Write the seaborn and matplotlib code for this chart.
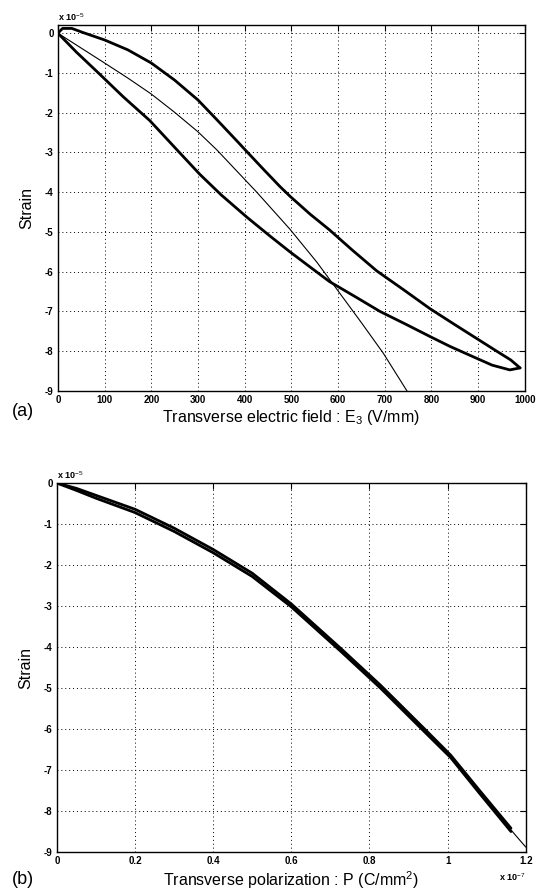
import numpy as np
import seaborn as sns
import matplotlib
matplotlib.use('Agg')
import matplotlib.pyplot as plt

# %% ---- data ----
# (a) strain (x 1e-5) vs transverse field E3 (V/mm)
field_up = [0, 10, 30, 53, 100, 150, 200, 250, 300, 340, 385, 404, 440, 475, 497,
            540, 582, 630, 683, 740, 797, 850, 897, 940, 970, 990]
strain_up = [0, 0.12, 0.12, 0.02, -0.17, -0.42, -0.75, -1.18, -1.68, -2.17, -2.73,
             -2.97, -3.42, -3.85, -4.1, -4.55, -4.95, -5.45, -5.98, -6.45, -6.93,
             -7.33, -7.68, -8.0, -8.22, -8.42]
field_dn = [990, 968, 930, 882, 840, 797, 745, 690, 640, 582, 540, 497, 454, 405,
            350, 304, 250, 197, 140, 85, 40, 0]
strain_dn = [-8.42, -8.47, -8.35, -8.1, -7.88, -7.63, -7.32, -7.0, -6.65, -6.25,
             -5.88, -5.5, -5.1, -4.63, -4.07, -3.55, -2.87, -2.2, -1.6, -0.98,
             -0.48, 0]
field_fit = [0, 100, 150, 200, 250, 300, 340, 385, 426, 497, 554, 590, 650, 697,
             744, 752]
strain_fit = [0, -0.75, -1.13, -1.53, -1.99, -2.48, -2.93, -3.49, -4.0, -4.93,
              -5.75, -6.32, -7.28, -8.05, -8.93, -9.08]

# (b) strain (x 1e-5) vs polarization P (x 1e-7 C/mm^2)
pol = [0, 0.05, 0.1, 0.2, 0.3, 0.4, 0.5, 0.6, 0.726, 0.828, 0.939, 1.008, 1.08, 1.162]
strain_pol_up = [0, -0.13, -0.3, -0.64, -1.1, -1.62, -2.2, -2.95, -4.03, -4.93,
                 -5.98, -6.64, -7.48, -8.42]
strain_pol_dn = [0, -0.18, -0.37, -0.72, -1.18, -1.7, -2.28, -3.02, -4.1, -5.0,
                 -6.05, -6.7, -7.55, -8.5]
pol_tail = [1.162, 1.18, 1.2]
strain_tail = [-8.46, -8.66, -8.88]

e_ticks = list(range(0, 1001, 100))
p_ticks = [0, 0.2, 0.4, 0.6, 0.8, 1.0, 1.2]
p_ticklabels = ['0', '0.2', '0.4', '0.6', '0.8', '1', '1.2']
s_ticks = list(range(0, -10, -1))

# %% ---- style ----
sns.set_theme(style='white')
plt.rcParams['font.family'] = ['Liberation Sans', 'DejaVu Sans']
plt.rcParams['axes.unicode_minus'] = False
plt.rcParams['text.color'] = 'black'
plt.rcParams['axes.labelcolor'] = 'black'
plt.rcParams['mathtext.fontset'] = 'custom'
plt.rcParams['mathtext.rm'] = 'Liberation Sans'
plt.rcParams['mathtext.it'] = 'Liberation Sans'
plt.rcParams['mathtext.bf'] = 'Liberation Sans:bold'

fig = plt.figure(figsize=(5.36, 8.92), dpi=100)
ax1 = fig.add_axes([0.108, 0.5617, 0.871, 0.410])
ax2 = fig.add_axes([0.106, 0.0448, 0.875, 0.4137])


def matlab_axes(ax):
    for sp in ax.spines.values():
        sp.set_visible(True)
        sp.set_color('black')
        sp.set_linewidth(1.0)
    ax.grid(True, color='black', linestyle=(0, (1, 3)), linewidth=0.7)
    ax.tick_params(direction='in', length=4, width=0.8, top=True, right=True,
                   labelsize=7, pad=3, colors='black')
    ax.set_yticks(s_ticks)
    for lab in ax.get_xticklabels() + ax.get_yticklabels():
        lab.set_fontweight('bold')
    ax.set_ylabel('Strain', fontsize=11.5, labelpad=8)


# %% ---- (a) ----
sns.lineplot(x=field_up, y=strain_up, sort=False, estimator=None, color='black',
             linewidth=2.0, ax=ax1)
sns.lineplot(x=field_dn, y=strain_dn, sort=False, estimator=None, color='black',
             linewidth=2.0, ax=ax1)
sns.lineplot(x=field_fit, y=strain_fit, sort=False, estimator=None, color='black',
             linewidth=0.8, ax=ax1)
ax1.set_xlim(0, 1000)
ax1.set_ylim(-9, 0.2)
ax1.set_xticks(e_ticks)
matlab_axes(ax1)
ax1.set_xlabel('Transverse electric field : E$_3$ (V/mm)', fontsize=11.5, labelpad=2)
ax1.text(0.0, 1.005, 'x 10$^{-5}$', transform=ax1.transAxes, fontsize=6.5,
         fontweight='bold', ha='left', va='bottom')
fig.text(0.022, 1 - 412 / 892, '(a)', fontsize=13, ha='left', va='center')

# %% ---- (b) ----
sns.lineplot(x=pol, y=strain_pol_up, sort=False, estimator=None, color='black',
             linewidth=2.0, ax=ax2)
sns.lineplot(x=pol, y=strain_pol_dn, sort=False, estimator=None, color='black',
             linewidth=2.0, ax=ax2)
sns.lineplot(x=pol_tail, y=strain_tail, sort=False, estimator=None, color='black',
             linewidth=0.8, ax=ax2)
ax2.set_xlim(0, 1.2)
ax2.set_ylim(-9, 0)
ax2.set_xticks(p_ticks)
ax2.set_xticklabels(p_ticklabels)
matlab_axes(ax2)
ax2.set_xlabel('Transverse polarization : P (C/mm$^2$)', fontsize=11.5, labelpad=2)
ax2.text(0.0, 1.005, 'x 10$^{-5}$', transform=ax2.transAxes, fontsize=6.5,
         fontweight='bold', ha='left', va='bottom')
ax2.text(1.0, -0.068, 'x 10$^{-7}$', transform=ax2.transAxes, fontsize=6.5,
         fontweight='bold', ha='right', va='center')
fig.text(0.022, 1 - 880 / 892, '(b)', fontsize=13, ha='left', va='center')

fig.savefig('out.png', dpi=100)
